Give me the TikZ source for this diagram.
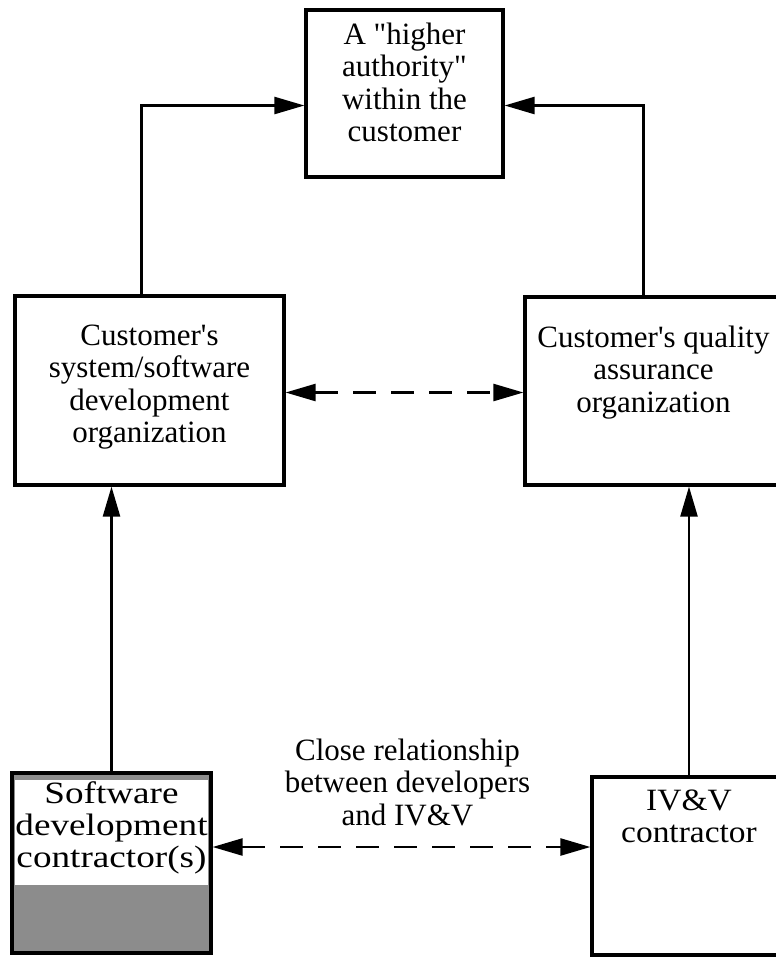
\documentclass[tikz,border=0pt]{standalone}
\usepackage{fontspec}
\setmainfont{Liberation Serif}[Ligatures=TeXOff]
\usetikzlibrary{arrows.meta,positioning,fit}

\begin{document}
\begin{tikzpicture}[x=0.5pt,y=-0.5pt,font=\fontsize{15.5}{16.25}\selectfont,
    >={Triangle[length=15pt,width=8.5pt]}]
    \tikzset{box/.style={draw,rectangle,line width=1.6pt,inner sep=0pt},
      txt/.style={align=center,inner sep=0pt,anchor=north},
      link/.style={line width=1.2pt},
      dashlink/.style={link,dash pattern=on 11.5pt off 7.5pt}}
    \useasboundingbox (0,0) rectangle (776,965);
    % the boxes
    \node[box,fit={(306,10) (503,177)},
      label={[txt,yshift=-7pt]north:{A "higher\\authority"\\within the\\customer}}] (auth) {};
    \node[box,fit={(15,296) (284,485)},
      label={[txt,yshift=-15pt]north:{Customer's\\system/software\\development\\organization}}] (dev) {};
    \node[box,fit={(525,297) (782,485)},
      label={[txt,yshift=-15pt]north:{Customer's quality\\assurance\\organization}}] (qa) {};
    \node[box,fill=black!45,fit={(12,773) (211,953)},
      path picture={\fill[white] ([xshift=1.5pt,yshift=-3.5pt]path picture bounding box.north west)
        rectangle ([xshift=-1.5pt,yshift=34pt]path picture bounding box.south east);},
      label={[txt,yshift=-5pt,font=\fontsize{15.5}{16}\selectfont\addfontfeature{FakeStretch=1.2}]
        north:{Software\\development\\contractor(s)}}] (sdc) {};
    \node[box,fit={(592,777) (786,955)},
      label={[txt,yshift=-7pt,font=\fontsize{15.5}{16.25}\selectfont\addfontfeature{FakeStretch=1.08}]
        north:{IV\&V\\contractor}}] (ivv) {};
    % reporting lines
    \draw[link,->] ([xshift=-4pt]dev.north) |- ([yshift=-6pt]auth.west);
    \draw[link,->] ([xshift=-5pt]qa.north) |- ([yshift=-6pt]auth.east);
    \draw[link,->] (sdc.north) -- (sdc.north |- dev.south);
    \draw[link,->] (ivv.north) -- (ivv.north |- qa.south);
    % dashed links
    \draw[dashlink,<->] ([yshift=-1pt]dev.east) -- ([yshift=-1pt]dev.east -| qa.west);
    \draw[dashlink,<->] ([yshift=8pt]sdc.east) -- ([yshift=8pt]sdc.east -| ivv.west)
      node[midway,above=10pt,xshift=3pt,align=center,inner sep=0pt]
      {Close relationship\\between developers\\and IV\&V};
\end{tikzpicture}
\end{document}
